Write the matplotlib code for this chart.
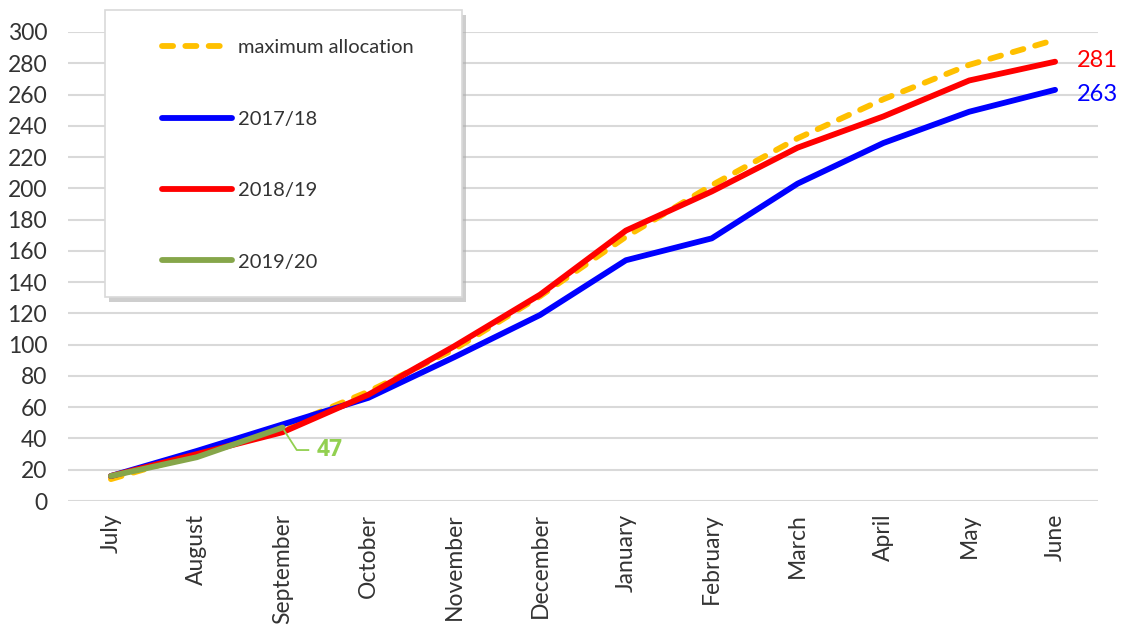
import matplotlib
matplotlib.use("Agg")
import matplotlib.pyplot as plt
from matplotlib.patches import Rectangle
import numpy as np

months = ["July", "August", "September", "October", "November", "December",
          "January", "February", "March", "April", "May", "June"]
max_alloc = [14, 30, 47, 70, 97, 131, 169, 202, 232, 257, 279, 295]
s1718 = [16, 32, 49, 66, 92, 119, 154, 168, 203, 229, 249, 263]
s1819 = [16, 30, 44, 68, 99, 132, 173, 198, 226, 246, 269, 281]
s1920 = [16, 28, 47]

plt.rcParams['font.family'] = ['Lato', 'DejaVu Sans']
W, H = 1124, 626
fig = plt.figure(figsize=(W/100, H/100), dpi=100)
ax = fig.add_axes([68/W, 1-501/H, (1098-68)/W, (501-32)/H])

x = np.arange(len(months))
lw = 4.2
ax.plot(x, max_alloc, color="#FFC000", lw=lw, dashes=(1.9, 2.1),
        dash_capstyle='round', label="maximum allocation", zorder=3)
ax.plot(x, s1718, color="#0000FF", lw=lw, solid_capstyle='round',
        label="2017/18", zorder=4)
ax.plot(x, s1819, color="#FF0000", lw=lw, solid_capstyle='round',
        label="2018/19", zorder=5)
ax.plot(x[:len(s1920)], s1920, color="#86A64A", lw=lw, solid_capstyle='round',
        label="2019/20", zorder=6)

ax.set_xlim(-0.5, len(months) - 0.5)
ax.set_ylim(0, 300)
ax.set_yticks(np.arange(0, 301, 20))
ax.set_xticks(x)
ax.set_xticklabels(months, rotation=90, fontsize=16.5, color="#333333")
ax.tick_params(axis='y', labelsize=16.5, labelcolor="#333333", length=0, pad=15)
ax.tick_params(axis='x', length=0, pad=9)
for s in ax.spines.values():
    s.set_visible(False)
ax.grid(axis='y', color="#D9D9D9", lw=1.5)
ax.set_axisbelow(True)

# end labels
ax.annotate(str(s1819[-1]), (x[-1], s1819[-1]), xytext=(16, 1),
            textcoords='offset points', color="#FF0000", fontsize=17,
            va='center', ha='left')
ax.annotate(str(s1718[-1]), (x[-1], s1718[-1]), xytext=(16, -3),
            textcoords='offset points', color="#0000FF", fontsize=17,
            va='center', ha='left')

# label + leader for 2019/20
i = len(s1920) - 1
xi, yi = x[i], s1920[i]
ax.plot([xi + 0.02, xi + 0.165, xi + 0.30], [yi - 2, yi - 14.4, yi - 14.4],
        color="#92D050", lw=1.3, zorder=7)
ax.text(xi + 0.40, yi - 14.4, str(yi), color="#92D050", fontsize=16.5,
        family=['Open Sans', 'DejaVu Sans'], fontweight='bold',
        va='center', ha='left', zorder=7)

# legend box with shadow (figure pixel coordinates)
bx0, by0, bx1, by1 = 105, 10, 462, 297
fig.patches.append(Rectangle(((bx0 + 4)/W, 1-(by1 + 5)/H), (bx1-bx0)/W, (by1-by0)/H,
                             transform=fig.transFigure, facecolor="#A6A6A6",
                             edgecolor='none', alpha=0.55, zorder=8))
fig.patches.append(Rectangle((bx0/W, 1-by1/H), (bx1-bx0)/W, (by1-by0)/H,
                             transform=fig.transFigure, facecolor="white",
                             edgecolor="#D9D9D9", lw=1.2, zorder=9))
fs_leg = 14.5
leg = fig.legend(loc='upper left', bbox_to_anchor=(162/W, 1-39/H),
                 fontsize=fs_leg, frameon=False,
                 labelspacing=2.7, handlelength=3.48, handletextpad=0.3,
                 borderpad=0, borderaxespad=0, labelcolor="#333333")
leg.set_zorder(10)

fig.savefig("out.png", dpi=100)
